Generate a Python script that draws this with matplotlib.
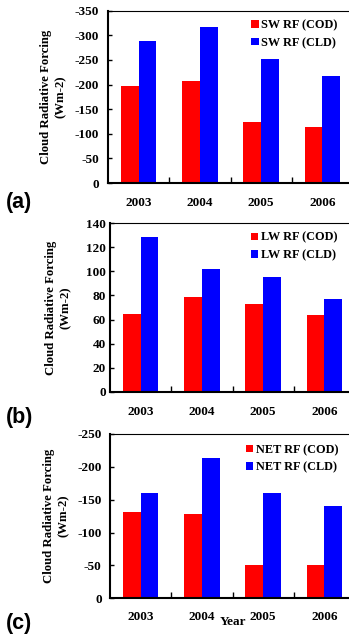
import numpy as np
import matplotlib
matplotlib.use('Agg')
from matplotlib import pyplot as plt

# 数据
years = ['2003', '2004', '2005', '2006']

sw_cod = [-197, -207, -124, -114]
sw_cld = [-288, -316, -252, -217]

lw_cod = [65, 79, 73, 64]
lw_cld = [129, 102, 95, 77]

net_cod = [-132, -128, -50, -50]
net_cld = [-160, -213, -160, -141]

sw_labels = ['SW RF (COD)', 'SW RF (CLD)']
lw_labels = ['LW RF (COD)', 'LW RF (CLD)']
net_labels = ['NET RF (COD)', 'NET RF (CLD)']

sw_ticks = [0, -50, -100, -150, -200, -250, -300, -350]
lw_ticks = [0, 20, 40, 60, 80, 100, 120, 140]
net_ticks = [0, -50, -100, -150, -200, -250]

W, H = 349, 639
serif = 'Liberation Serif'


def px_axes(fig, left, top, right, bottom):
    # 像素坐标 -> figure 比例
    return fig.add_axes([left / W, 1 - bottom / H, (right - left) / W, (bottom - top) / H])


def draw_panel(ax, cod, cld, labels, ticks, ylim, ypad, ylab_x, leg_anchor, letter, letter_y):
    x = np.arange(len(years))
    w = 0.29
    ax.bar(x - w / 2, cod, w, color='#ff0000', label=labels[0])
    ax.bar(x + w / 2, cld, w, color='#0000ff', label=labels[1])
    ax.set_xlim(-0.5, 3.5)
    ax.set_ylim(*ylim)
    ax.set_yticks(ticks)
    ax.set_yticklabels([str(t) for t in ticks], fontfamily=serif, fontweight='bold', fontsize=9.5)
    ax.set_xticks(x)
    ax.set_xticklabels(years, fontfamily=serif, fontweight='bold', fontsize=9.5)
    ax.set_xticks(x[:-1] + 0.5, minor=True)
    ax.tick_params(axis='x', which='major', length=0, pad=10)
    ax.tick_params(axis='x', which='minor', direction='in', length=4, width=1)
    ax.tick_params(axis='y', direction='in', length=3, width=1, pad=ypad)
    for s in ['left', 'bottom']:
        ax.spines[s].set_linewidth(1.5)
    ax.spines['top'].set_linewidth(0.8)
    ax.spines['right'].set_linewidth(0.8)
    ax.set_ylabel('Cloud Radiative Forcing\n(Wm-2)', fontfamily=serif, fontweight='bold',
                  fontsize=9.2, linespacing=1.3)
    ax.yaxis.set_label_coords(ylab_x, 0.5)
    ax.legend(frameon=False, loc='upper left', bbox_to_anchor=leg_anchor,
              borderpad=0, borderaxespad=0, handlelength=0.6, handleheight=0.6,
              handletextpad=0.2, labelspacing=0.45,
              prop={'family': serif, 'weight': 'bold', 'size': 8.8})
    fig.text(6 / W, 1 - letter_y / H, letter, fontfamily='Liberation Sans', fontweight='bold',
             fontsize=15.5, va='center', ha='left')


fig = plt.figure(figsize=(W / 100, H / 100), dpi=100)

ax1 = px_axes(fig, 108, 10.7, 353, 183)
draw_panel(ax1, sw_cod, sw_cld, sw_labels, sw_ticks, (0, -350), 6.5, -0.167,
           (0.585, 0.95), '(a)', 203)

ax2 = px_axes(fig, 110, 223.3, 355, 391.7)
draw_panel(ax2, lw_cod, lw_cld, lw_labels, lw_ticks, (0, 140), 3, -0.155,
           (0.575, 0.95), '(b)', 418)

ax3 = px_axes(fig, 110, 434, 355, 598.3)
draw_panel(ax3, net_cod, net_cld, net_labels, net_ticks, (0, -250), 6, -0.163,
           (0.555, 0.94), '(c)', 623)
ax3.tick_params(axis='x', which='major', pad=9)
fig.text(233 / W, 1 - 622 / H, 'Year', fontfamily=serif, fontweight='bold', fontsize=9.5,
         ha='center', va='center')

fig.savefig('out.png', dpi=100)
plt.close()
